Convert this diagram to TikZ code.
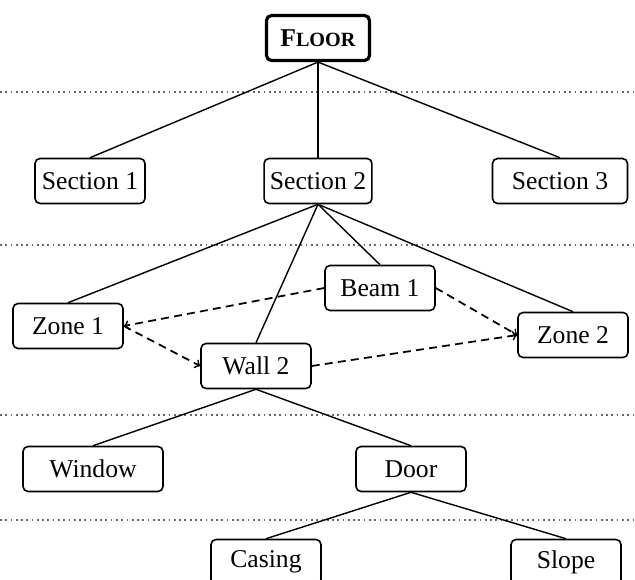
\documentclass[tikz,border=0pt]{standalone}
\usepackage{fontspec}
\setmainfont{Liberation Serif}
\usetikzlibrary{arrows}

\begin{document}
\begin{tikzpicture}[x=0.02cm,y=-0.02cm,>=to,line width=0.8pt,
        box/.style={rectangle,draw,rounded corners=0.1cm,line width=0.9pt,
          minimum width=2.2cm,minimum height=0.9cm,font=\fontsize{14.6}{17}\selectfont},
        level line/.style={dotted,line width=1pt,gray!80!black}]
            \useasboundingbox (0,0) rectangle (635,580);
            % levels
            \foreach \y in {92,245,415,520}
              \draw[level line] (0,\y) -- (635,\y);
            \node[box,line width=1.8pt,minimum width=2.06cm] (floor) at (318,38) {\textbf{F\fontsize{11.5}{13}\selectfont LOOR}};
            \node[box] (sec1) at (90,181) {Section 1};
            \node[box,minimum width=2.14cm] (sec2) at (318,181) {Section 2};
            \node[box,minimum width=2.7cm] (sec3) at (560,181) {Section 3};
            \node[box] (beam1) at (380,288) {Beam 1};
            \node[box] (zone1) at (68,326) {Zone 1};
            \node[box] (zone2) at (573,335) {Zone 2};
            \node[box] (wall2) at (256,366) {Wall 2};
            \node[box,minimum width=2.8cm] (window) at (93,469) {Window};
            \node[box] (door) at (411,469) {Door};
            \node[box] (casing) at (266,562) {Casing};
            \node[box] (slope) at (566,562) {Slope};
            \path
            (floor.south) edge (sec1.north)
            (floor.south) edge (sec2.north)
            (floor.south) edge (sec3.north)
            (sec2.south) edge (zone1.north)
            (sec2.south) edge (wall2.north)
            (sec2.south) edge (beam1.north)
            (sec2.south) edge (zone2.north)
            (wall2.south) edge (window.north)
            (wall2.south) edge (door.north)
            (door.south) edge (casing.north)
            (door.south) edge (slope.north)
            ;
            \path[->,line width=1pt,dash pattern=on 4.5pt off 3pt]
            (beam1.west) edge (zone1.east)
            (zone1.east) edge (wall2.west)
            (beam1.east) edge (zone2.west)
            (wall2.east) edge (zone2.west)
            ;
        \end{tikzpicture}
\end{document}
